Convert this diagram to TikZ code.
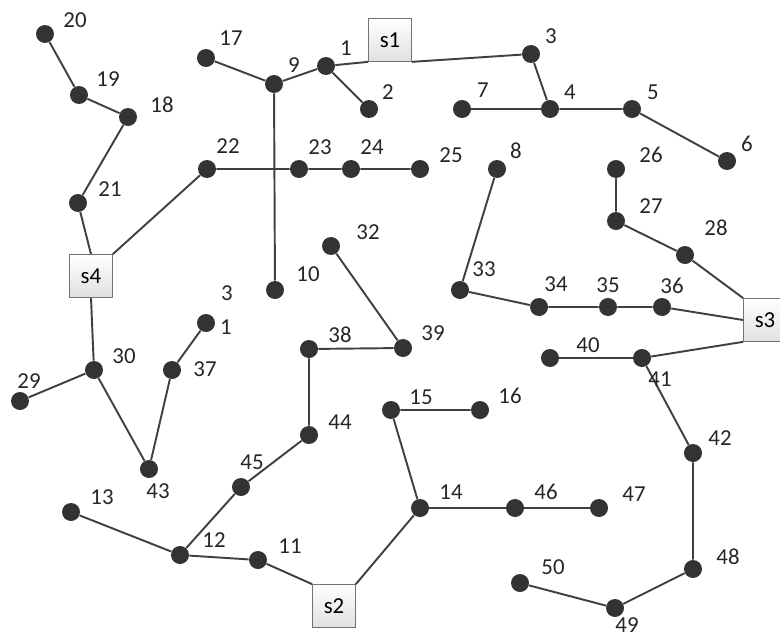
\documentclass[tikz,border=0pt]{standalone}
\usepackage{fontspec}
\setmainfont{Carlito}
\usepackage{xcolor}
\usepackage{tikz}
\usetikzlibrary{backgrounds}

\begin{document}
\begin{tikzpicture}[
    x=0.02cm, y=-0.02cm,
    bus/.style={circle, fill=black!80, inner sep=0pt, minimum size=0.36cm},
    station/.style={draw=black!55, top color=white, bottom color=black!12, minimum size=0.86cm, inner sep=0pt, font=\fontsize{13}{15}\selectfont},
    lbl/.style={font=\fontsize{13}{15}\selectfont, text=black!85, inner sep=0pt},
    feeder/.style={draw=black!75, line width=1.1pt},
  ]
    \useasboundingbox (0,0) rectangle (780,632);
    % substations
    \node[station] (s1) at (390,40) {s1};
    \node[station] (s2) at (334,606) {s2};
    \node[station] (s3) at (765,320) {s3};
    \node[station] (s4) at (91,276) {s4};
    % buses: number / position / label position
    \foreach \n/\x/\y/\lx/\ly in {
        1/326/66/346/48, 2/369/109/388/92, 3/531/54/551/36, 4/550/109/570/92,
        5/632/109/653/92, 6/727/161/747/144, 7/462/109/483/90, 8/497/169/516/151,
        9/274/84/294/65, 10/275/290/308/274, 11/258/560/290/546, 12/180/555/214/540,
        13/71/512/102/497, 14/420/508/451/492, 15/391/410/421/397, 16/480/410/510/396,
        17/206/58/231/38, 18/128/117/162/105, 19/79/95/108/79, 20/45/34/75/20,
        21/78/203/110/189, 22/207/169/228/146, 23/299/169/320/147, 24/351/169/372/147,
        25/420/169/451/155, 26/616/169/651/155, 27/616/221/651/206, 28/685/255/716/228,
        29/20/401/29/381, 30/94/370/124/356, 32/331/246/368/232, 33/460/290/484/269,
        34/539/307/556/284, 35/608/307/608/285, 36/662/307/672/286, 37/172/370/205/369,
        38/309/349/340/335, 39/403/348/433/333, 40/550/358/588/345, 41/642/358/660/379,
        42/693/453/720/438, 43/149/469/158/491, 44/309/435/340/422, 45/241/487/252/462,
        46/515/508/546/492, 47/599/508/634/494, 48/693/569/728/557, 49/615/608/627/625,
        50/520/583/553/567} {
      \node[bus] (n\n) at (\x,\y) {};
      \node[lbl] (t\n) at (\lx,\ly) {\n};
    }
    \node[bus] (n31) at (206,323) {};
    \node[lbl] (t31a) at (227,293) {3};
    \node[lbl] (t31b) at (226,327) {1};
    % feeders
    \begin{scope}[on background layer]
      \draw[feeder] (n20) -- (n19) -- (n18) -- (n21) -- (s4.north);
      \draw[feeder] (s4.north east) -- (n22) -- (n23) -- (n24) -- (n25);
      \draw[feeder] (n17) -- (n9) -- (n1) -- (s1.south west);
      \draw[feeder] (n1) -- (n2);
      \draw[feeder] (n9) -- (n10);
      \draw[feeder] (s1.south east) -- (n3) -- (n4) -- (n5) -- (n6);
      \draw[feeder] (n7) -- (n4);
      \draw[feeder] (n8) -- (n33) -- (n34) -- (n35) -- (n36) -- (s3.west);
      \draw[feeder] (n26) -- (n27) -- (n28) -- (s3.north west);
      \draw[feeder] (s3.south west) -- (n41) -- (n42) -- (n48) -- (n49) -- (n50);
      \draw[feeder] (n40) -- (n41);
      \draw[feeder] (s4.south) -- (n30) -- (n29);
      \draw[feeder] (n30) -- (n43) -- (n37) -- (n31);
      \draw[feeder] (n32) -- (n39) -- (n38) -- (n44) -- (n45) -- (n12) -- (n11) -- (s2.north west);
      \draw[feeder] (n13) -- (n12);
      \draw[feeder] (s2.north east) -- (n14) -- (n15) -- (n16);
      \draw[feeder] (n14) -- (n46) -- (n47);
    \end{scope}
  \end{tikzpicture}
\end{document}
